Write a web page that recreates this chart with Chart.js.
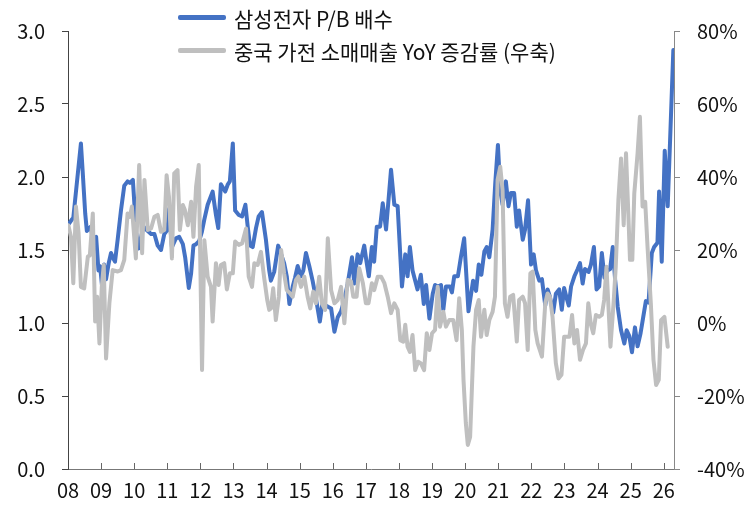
<!DOCTYPE html>
<html>
<head>
<meta charset="utf-8">
<script src="https://cdn.jsdelivr.net/npm/chart.js@4"></script>
<style>
  body { margin: 0; background: #fff; }
  #wrap { position: relative; width: 747px; height: 505px; }
  #legend { position: absolute; left: 178px; top: 1px; font-family: "Noto Sans CJK KR", "Noto Sans", sans-serif; font-size: 21px; color: #111; }
  .row { display: flex; align-items: center; height: 33px; }
  .swatch { width: 48px; height: 5px; border-radius: 2px; margin-right: 8px; }
</style>
</head>
<body>
<div id="wrap">
  <canvas id="chart"></canvas>
  <div id="legend"></div>
</div>
<script>
// 삼성전자 P/B (left axis)
const pbYears = [
  2008.03, 2008.12, 2008.16, 2008.39, 2008.44, 2008.52, 2008.57, 2008.69, 2008.75, 2008.85,
  2008.92, 2008.97, 2009.03, 2009.09, 2009.15, 2009.23, 2009.30, 2009.35, 2009.42, 2009.50,
  2009.60, 2009.70, 2009.80, 2009.87, 2009.96, 2010.06, 2010.13, 2010.22, 2010.28, 2010.36,
  2010.51, 2010.61, 2010.71, 2010.81, 2010.91, 2011.01, 2011.05, 2011.14, 2011.26, 2011.36,
  2011.47, 2011.54, 2011.65, 2011.72, 2011.79, 2011.87, 2011.96, 2012.04, 2012.12, 2012.22,
  2012.37, 2012.47, 2012.54, 2012.62, 2012.75, 2012.83, 2012.89, 2012.98, 2013.05, 2013.16,
  2013.26, 2013.36, 2013.43, 2013.50, 2013.58, 2013.68, 2013.76, 2013.86, 2013.98, 2014.08,
  2014.13, 2014.23, 2014.35, 2014.44, 2014.53, 2014.61, 2014.69, 2014.79, 2014.86, 2014.94,
  2015.04, 2015.11, 2015.19, 2015.29, 2015.39, 2015.49, 2015.61, 2015.69, 2015.79, 2015.95,
  2016.05, 2016.15, 2016.25, 2016.35, 2016.45, 2016.58, 2016.65, 2016.75, 2016.83, 2016.95,
  2017.02, 2017.09, 2017.18, 2017.25, 2017.33, 2017.43, 2017.51, 2017.61, 2017.76, 2017.86,
  2017.96, 2018.09, 2018.19, 2018.26, 2018.33, 2018.41, 2018.56, 2018.66, 2018.75, 2018.82,
  2018.92, 2019.02, 2019.09, 2019.18, 2019.27, 2019.34, 2019.42, 2019.54, 2019.60, 2019.67,
  2019.78, 2019.87, 2019.97, 2020.10, 2020.24, 2020.33, 2020.41, 2020.49, 2020.58, 2020.65,
  2020.73, 2020.83, 2020.91, 2020.99, 2021.06, 2021.13, 2021.23, 2021.31, 2021.38, 2021.48,
  2021.56, 2021.63, 2021.74, 2021.81, 2021.90, 2021.99, 2022.07, 2022.14, 2022.24, 2022.32,
  2022.42, 2022.49, 2022.56, 2022.66, 2022.74, 2022.84, 2022.92, 2022.99, 2023.08, 2023.13,
  2023.20, 2023.30, 2023.40, 2023.47, 2023.55, 2023.62, 2023.73, 2023.80, 2023.89, 2023.97,
  2024.05, 2024.13, 2024.21, 2024.30, 2024.38, 2024.46, 2024.53, 2024.61, 2024.71, 2024.81,
  2024.88, 2024.96, 2025.04, 2025.13, 2025.21, 2025.30, 2025.38, 2025.46, 2025.54, 2025.64,
  2025.71, 2025.81, 2025.86, 2025.94, 2026.03, 2026.12, 2026.29
];
const pbValues = [
  1.68, 1.71, 1.72, 2.23, 2.05, 1.75, 1.63, 1.66, 1.57, 1.59,
  1.36, 1.39, 1.25, 1.40, 1.30, 1.41, 1.48, 1.45, 1.42, 1.57,
  1.77, 1.94, 1.97, 1.96, 1.98, 1.62, 1.51, 1.60, 1.66, 1.64,
  1.61, 1.61, 1.53, 1.50, 1.61, 1.64, 1.78, 1.52, 1.58, 1.59,
  1.54, 1.45, 1.24, 1.34, 1.53, 1.54, 1.56, 1.62, 1.71, 1.81,
  1.90, 1.74, 1.65, 1.95, 1.90, 1.95, 1.97, 2.23, 1.77, 1.74,
  1.73, 1.81, 1.66, 1.53, 1.52, 1.65, 1.73, 1.76, 1.57, 1.36,
  1.29, 1.35, 1.53, 1.47, 1.41, 1.32, 1.13, 1.25, 1.31, 1.39,
  1.32, 1.36, 1.48, 1.39, 1.29, 1.17, 1.01, 1.14, 1.12, 1.10,
  0.94, 1.04, 1.08, 1.16, 1.27, 1.45, 1.27, 1.47, 1.41, 1.53,
  1.42, 1.32, 1.52, 1.42, 1.66, 1.66, 1.82, 1.64, 2.05, 1.81,
  1.80, 1.25, 1.47, 1.32, 1.52, 1.36, 1.23, 1.33, 1.13, 1.26,
  1.03, 1.20, 1.26, 1.25, 1.26, 1.09, 1.25, 1.25, 1.21, 1.32,
  1.32, 1.45, 1.58, 1.08, 1.29, 1.22, 1.40, 1.33, 1.49, 1.52,
  1.45, 1.64, 1.96, 2.22, 1.91, 1.81, 1.97, 1.80, 1.89, 1.89,
  1.66, 1.77, 1.57, 1.64, 1.84, 1.40, 1.47, 1.36, 1.29, 1.30,
  1.12, 1.23, 1.18, 1.07, 1.20, 1.23, 1.09, 1.24, 1.16, 1.12,
  1.25, 1.32, 1.37, 1.41, 1.27, 1.37, 1.35, 1.40, 1.52, 1.23,
  1.25, 1.48, 1.31, 1.36, 1.37, 1.52, 1.30, 1.11, 0.95, 0.86,
  0.95, 0.91, 0.80, 0.97, 0.84, 0.93, 1.04, 1.15, 1.14, 1.48,
  1.52, 1.55, 1.90, 1.42, 2.18, 1.80, 2.87
];

// 중국 가전 소매매출 YoY (right axis, %)
const salesYears = [
  2008.01, 2008.09, 2008.16, 2008.24, 2008.32, 2008.39, 2008.49, 2008.60, 2008.66, 2008.75,
  2008.82, 2008.88, 2008.95, 2009.02, 2009.08, 2009.15, 2009.25, 2009.35, 2009.50, 2009.60,
  2009.70, 2009.80, 2009.87, 2009.93, 2010.05, 2010.15, 2010.24, 2010.31, 2010.41, 2010.51,
  2010.61, 2010.71, 2010.81, 2010.91, 2010.98, 2011.05, 2011.14, 2011.21, 2011.31, 2011.38,
  2011.47, 2011.53, 2011.62, 2011.72, 2011.79, 2011.87, 2011.95, 2012.05, 2012.12, 2012.22,
  2012.32, 2012.37, 2012.47, 2012.55, 2012.62, 2012.72, 2012.80, 2012.89, 2012.98, 2013.05,
  2013.16, 2013.26, 2013.38, 2013.46, 2013.56, 2013.63, 2013.73, 2013.83, 2013.93, 2014.02,
  2014.08, 2014.13, 2014.20, 2014.28, 2014.37, 2014.44, 2014.53, 2014.61, 2014.71, 2014.79,
  2014.89, 2014.96, 2015.04, 2015.14, 2015.24, 2015.32, 2015.41, 2015.49, 2015.59, 2015.67,
  2015.77, 2015.85, 2015.95, 2016.05, 2016.15, 2016.25, 2016.35, 2016.45, 2016.55, 2016.62,
  2016.72, 2016.80, 2016.91, 2017.00, 2017.08, 2017.18, 2017.25, 2017.36, 2017.46, 2017.56,
  2017.66, 2017.76, 2017.86, 2017.96, 2018.04, 2018.13, 2018.19, 2018.26, 2018.33, 2018.41,
  2018.49, 2018.58, 2018.66, 2018.76, 2018.84, 2018.92, 2019.00, 2019.09, 2019.17, 2019.24,
  2019.34, 2019.42, 2019.52, 2019.64, 2019.74, 2019.82, 2019.90, 2019.95, 2020.02, 2020.08,
  2020.15, 2020.25, 2020.33, 2020.41, 2020.48, 2020.58, 2020.65, 2020.73, 2020.83, 2020.90,
  2020.98, 2021.06, 2021.13, 2021.20, 2021.28, 2021.36, 2021.45, 2021.56, 2021.63, 2021.74,
  2021.81, 2021.89, 2021.97, 2022.04, 2022.12, 2022.19, 2022.32, 2022.42, 2022.49, 2022.56,
  2022.64, 2022.74, 2022.82, 2022.91, 2022.99, 2023.08, 2023.15, 2023.23, 2023.30, 2023.38,
  2023.47, 2023.56, 2023.65, 2023.72, 2023.80, 2023.87, 2023.95, 2024.05, 2024.13, 2024.20,
  2024.27, 2024.39, 2024.49, 2024.55, 2024.63, 2024.71, 2024.79, 2024.86, 2024.93, 2024.98,
  2025.05, 2025.11, 2025.21, 2025.28, 2025.36, 2025.44, 2025.51, 2025.61, 2025.69, 2025.77,
  2025.85, 2025.92, 2026.02, 2026.12
];
const salesValues = [
  26.8, 23.6, 10.9, 31.9, 24.7, 9.9, 9.5, 18.2, 18.5, 30.0,
  0.4, 7.2, -5.6, 9.9, 15.9, -9.7, 5.4, 14.5, 14.1, 14.5,
  17.3, 30.0, 29.1, 31.9, 17.7, 43.3, 19.1, 39.2, 25.5, 25.9,
  29.1, 29.6, 25.0, 25.5, 40.5, 34.6, 17.7, 41.0, 41.9, 25.5,
  32.3, 31.0, 26.8, 33.2, 23.6, 37.3, 43.3, -12.9, 22.7, 12.7,
  9.9, 0.4, 16.4, 10.4, 15.9, 16.4, 9.2, 13.6, 13.6, 22.3,
  21.4, 21.8, 25.9, 12.7, 9.9, 16.4, 15.9, 19.5, 12.2, 6.3,
  3.6, 4.0, 9.5, 0.8, 7.2, 20.0, 13.6, 9.0, 8.1, 7.2,
  11.8, 12.7, 9.9, 12.7, 7.2, 4.0, 8.6, 5.4, 12.7, 5.4,
  3.6, 23.2, 9.0, 5.4, 6.3, 9.9, -0.1, 11.8, 11.4, 7.2,
  7.2, 15.0, 10.9, 5.4, 5.4, 10.9, 9.0, 12.7, 12.7, 10.9,
  7.2, 2.7, 5.4, 3.6, -4.7, -5.1, -0.5, -6.5, -7.9, -3.3,
  -12.9, -10.6, -11.0, -12.9, -2.8, -7.4, -2.8, -1.9, 9.9, -1.0,
  3.1, -1.0, 0.8, 0.8, -4.7, 6.8, -1.9, -15.6, -27.4, -33.4,
  -31.2, -6.5, 3.6, 6.3, -3.8, 3.6, -3.3, 0.8, 3.1, 7.2,
  39.2, 42.8, 36.4, 5.4, 1.7, 7.2, 7.7, -5.1, 6.3, 7.2,
  5.4, -7.4, 13.6, 14.1, -1.9, -5.6, -9.2, 5.4, 8.1, 7.2,
  1.7, -11.0, -15.2, -14.2, -3.8, -3.8, -3.8, 2.2, -5.6, -1.9,
  -10.1, -7.4, -5.6, 5.4, -0.5, -2.8, 2.2, 1.7, 2.2, 6.3,
  15.4, -6.5, 6.3, 15.4, 33.7, 45.1, 26.8, 46.5, 30.0, 17.3,
  17.3, 35.5, 46.5, 56.5, 31.9, 33.2, 20.9, 5.4, -10.1, -17.0,
  -15.6, 0.8, 1.7, -6.5
];

const yearTicks = [2009, 2010, 2011, 2012, 2013, 2014, 2015, 2016, 2017, 2018,
  2019, 2020, 2021, 2022, 2023, 2024, 2025, 2026];

const FONT = { family: '"Noto Sans CJK KR", "Noto Sans", sans-serif', size: 20 };

// x-axis tick marks point up into the plot
const upTicks = {
  id: "upTicks",
  afterDraw(chart) {
    const ctx = chart.ctx;
    const x = chart.scales.x;
    const bottom = chart.chartArea.bottom;
    ctx.save();
    ctx.strokeStyle = "#666";
    ctx.lineWidth = 1;
    yearTicks.forEach(yr => {
      const px = Math.round(x.getPixelForValue(yr)) + 0.5;
      ctx.beginPath();
      ctx.moveTo(px, bottom);
      ctx.lineTo(px, bottom - 6);
      ctx.stroke();
    });
    ctx.restore();
  }
};

const chart = new Chart(document.getElementById("chart"), {
  type: "line",
  data: {
    datasets: [
      {
        label: "삼성전자 P/B 배수",
        data: pbYears.map((x, i) => ({ x: x, y: pbValues[i] })),
        yAxisID: "y",
        borderColor: "#4472C4",
        borderWidth: 4,
        order: 1
      },
      {
        label: "중국 가전 소매매출 YoY 증감률 (우축)",
        data: salesYears.map((x, i) => ({ x: x, y: salesValues[i] })),
        yAxisID: "y1",
        borderColor: "#BFBFBF",
        borderWidth: 4,
        order: 0
      }
    ]
  },
  options: {
    responsive: true,
    maintainAspectRatio: false,
    animation: false,
    layout: { padding: { top: 31, left: 0, right: 0, bottom: 0 } },
    elements: {
      point: { radius: 0 },
      line: { tension: 0, borderJoinStyle: "round", borderCapStyle: "round", fill: false }
    },
    plugins: { legend: { display: false }, tooltip: { enabled: false } },
    scales: {
      x: {
        type: "linear",
        min: 2008,
        max: 2026.31,
        grid: { drawOnChartArea: false, drawTicks: false },
        border: { display: true, color: "#777", width: 1 },
        ticks: {
          stepSize: 1,
          includeBounds: false,
          autoSkip: false,
          maxRotation: 0,
          padding: 9,
          color: "#111",
          font: FONT,
          callback: v => Number.isInteger(v) ? String(v % 100).padStart(2, "0") : ""
        },
        afterFit: s => { s.height = 36; }
      },
      y: {
        position: "left",
        min: 0,
        max: 3,
        grid: { drawOnChartArea: false, tickLength: 6, color: "#444" },
        border: { display: true, color: "#444", width: 1 },
        ticks: { stepSize: 0.5, padding: 17, color: "#111", font: FONT, callback: v => v.toFixed(1) },
        afterFit: s => { s.width = 68; }
      },
      y1: {
        position: "right",
        min: -40,
        max: 80,
        grid: { drawOnChartArea: false, tickLength: 6, color: "#888" },
        border: { display: true, color: "#888", width: 1 },
        ticks: { stepSize: 20, padding: 17, color: "#111", font: FONT, callback: v => v + "%" },
        afterFit: s => { s.width = 73; }
      }
    }
  },
  plugins: [upTicks]
});

// legend rows built from the datasets
const legendDiv = document.getElementById("legend");
[0, 1].forEach(i => {
  const ds = chart.data.datasets[i];
  const row = document.createElement("div");
  row.className = "row";
  row.innerHTML = `<span class="swatch" style="background:${ds.borderColor}"></span><span>${ds.label}</span>`;
  legendDiv.appendChild(row);
});
</script>
</body>
</html>
